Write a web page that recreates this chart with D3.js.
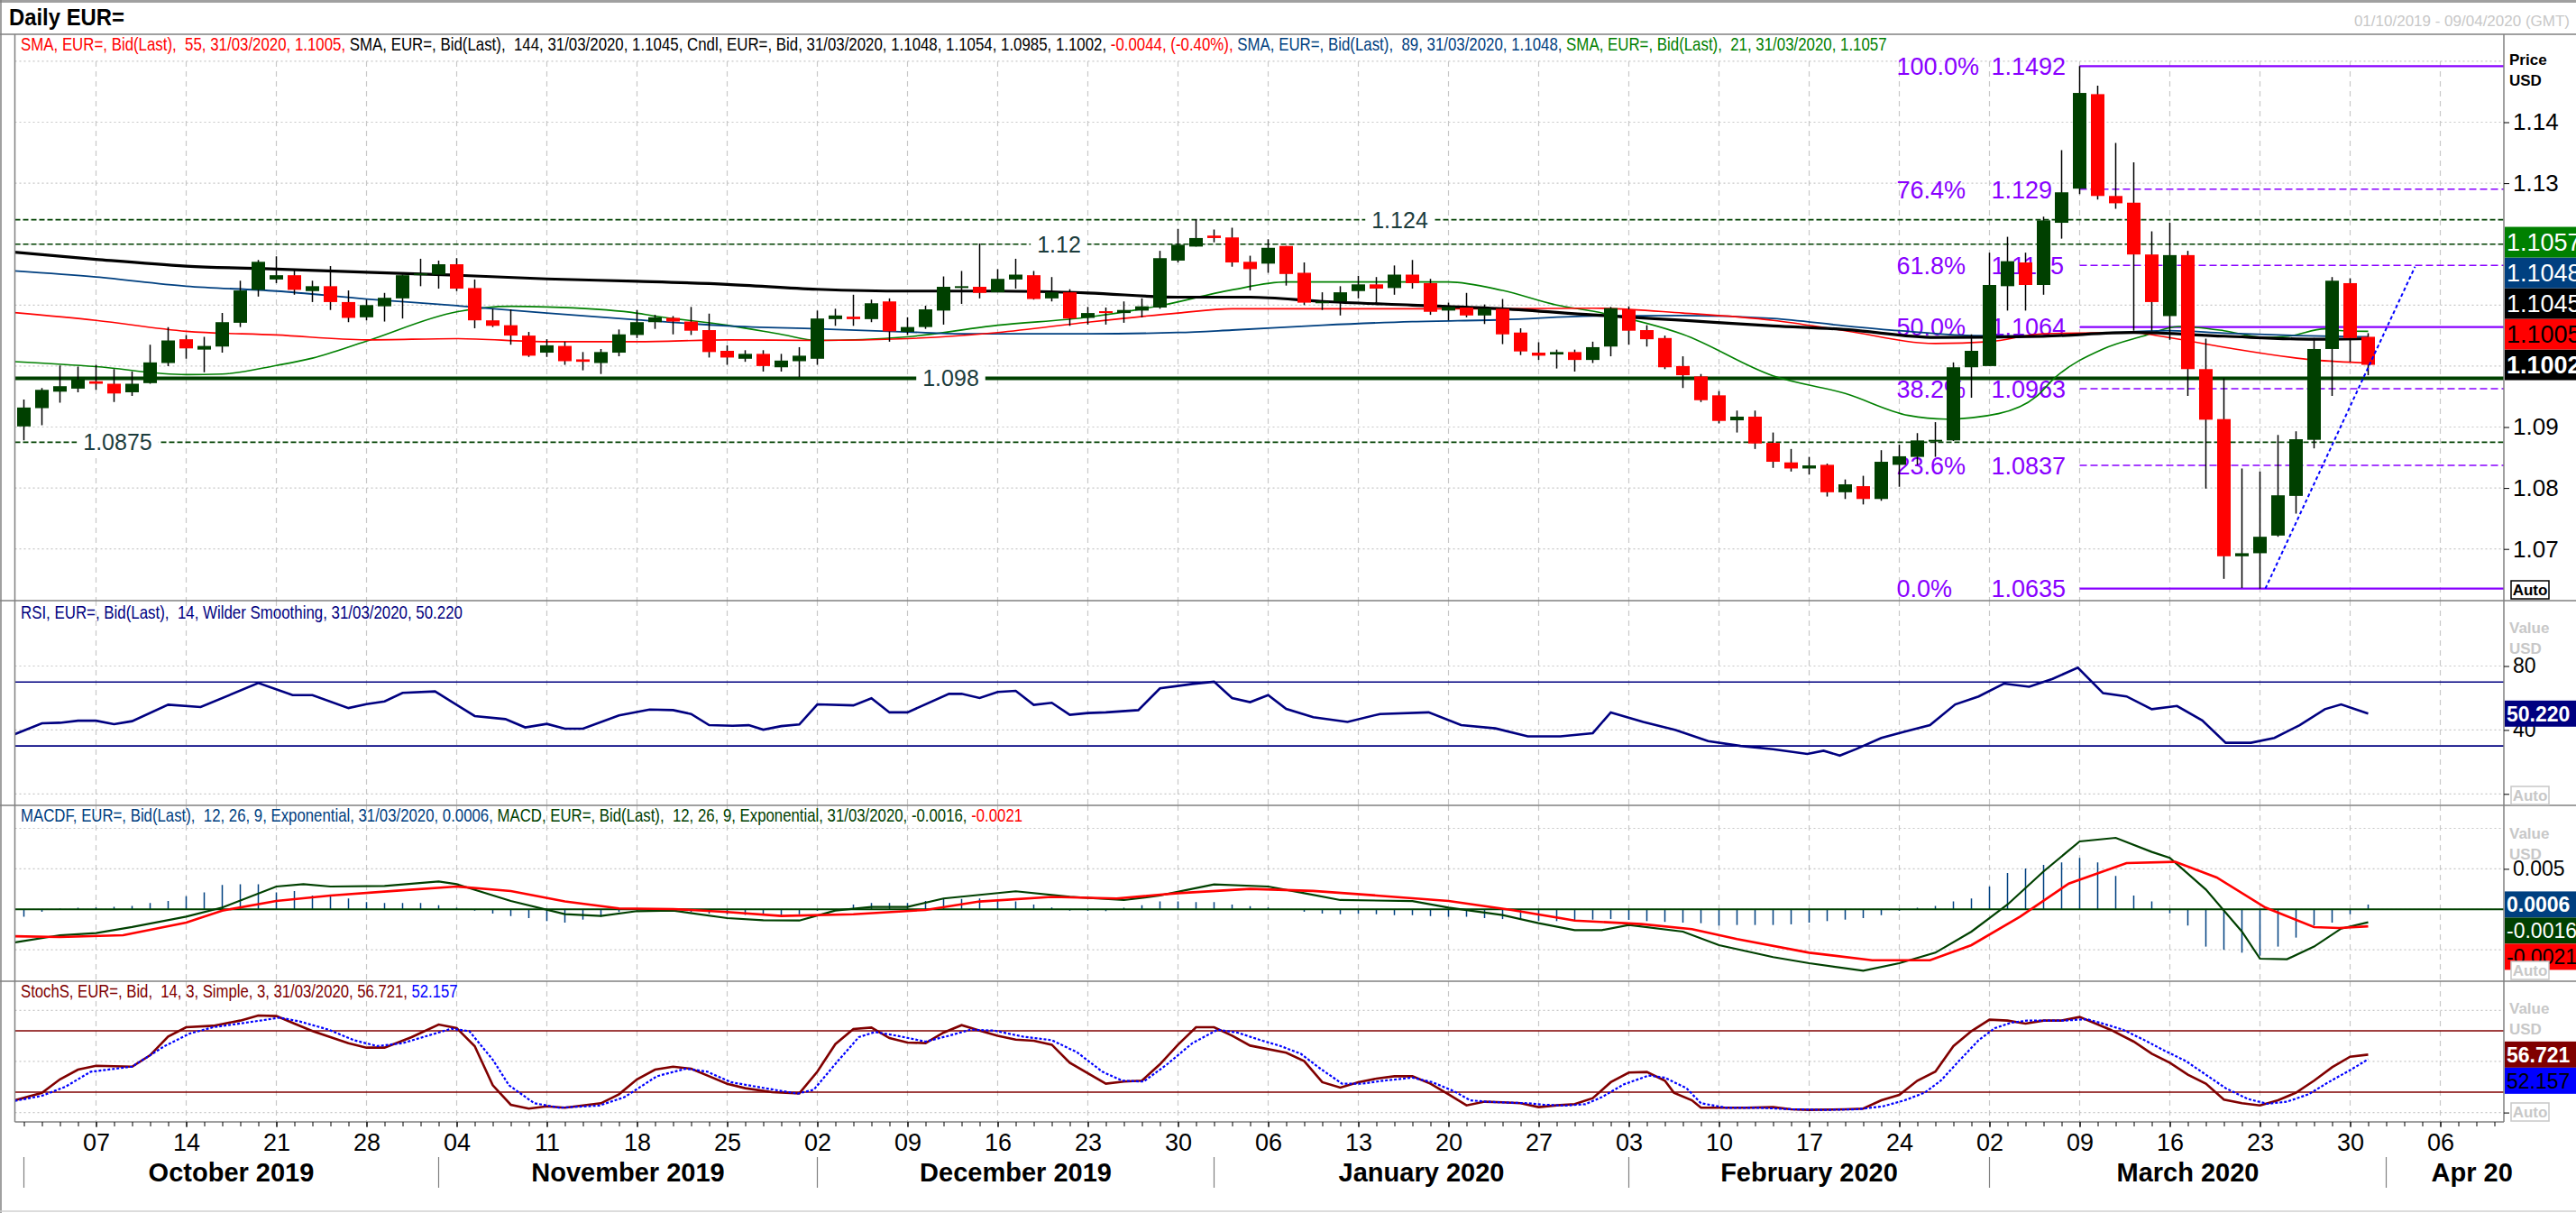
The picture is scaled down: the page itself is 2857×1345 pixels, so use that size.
<!DOCTYPE html>
<html><head><meta charset="utf-8">
<script src="https://cdn.jsdelivr.net/npm/d3@7"></script>
<style>body{margin:0;background:#fff;} svg text{white-space:pre;}</style>
</head><body>
<svg id="c" width="2857" height="1345"></svg>
<script>
// ---------------- DATA ----------------
const firstDay = "2019-10-01", lastDay = "2020-04-09";   // weekday categories
const opens = [1.0901,1.0931,1.0958,1.0963,1.0975,1.0971,1.0957,1.0972,1.1005,1.1044,
1.1027,1.1032,1.1071,1.1125,1.1142,1.1149,1.1123,1.1131,1.1105,1.1080,
1.1098,1.1111,1.1150,1.1150,1.1167,1.1128,1.1075,1.1067,1.1050,1.1022,
1.1033,1.1011,1.1005,1.1022,1.1051,1.1072,1.1079,1.1073,1.1059,1.1025,
1.1012,1.1020,1.0998,1.1008,1.1012,1.1077,1.1081,1.1077,1.1106,1.1056,
1.1064,1.1091,1.1130,1.1130,1.1121,1.1142,1.1149,1.1111,1.1121,1.1079,
1.1090,1.1087,1.1091,1.1096,1.1173,1.1196,1.1214,1.1211,1.1171,1.1168,
1.1197,1.1153,1.1103,1.1106,1.1123,1.1134,1.1128,1.1150,1.1136,1.1091,
1.1096,1.1083,1.1094,1.1055,1.1022,1.1019,1.1023,1.1010,1.1032,1.1093,
1.1059,1.1046,1.1000,1.0983,1.0952,1.0911,1.0917,1.0874,1.0842,1.0832,
1.0838,1.0793,1.0803,1.0782,1.0838,1.0851,1.0878,1.0878,1.0998,1.1000,
1.1131,1.1170,1.1133,1.1235,1.1291,1.1446,1.1279,1.1268,1.1183,1.1082,
1.1182,1.0995,1.0913,1.0688,1.0693,1.0722,1.0787,1.0879,1.1028,1.1136,
1.1048];
const highs = [1.0945,1.0964,1.1001,1.0999,1.1002,1.0995,1.0991,1.1035,1.1064,1.1051,
1.1048,1.1087,1.1140,1.1174,1.1180,1.1159,1.1140,1.1164,1.1124,1.1109,
1.1120,1.1150,1.1176,1.1173,1.1177,1.1142,1.1094,1.1093,1.1056,1.1044,
1.1040,1.1023,1.1028,1.1060,1.1092,1.1084,1.1082,1.1097,1.1086,1.1034,
1.1026,1.1026,1.1020,1.1031,1.1091,1.1094,1.1117,1.1109,1.1111,1.1080,
1.1099,1.1147,1.1156,1.1201,1.1159,1.1176,1.1156,1.1146,1.1126,1.1097,
1.1096,1.1106,1.1111,1.1189,1.1225,1.1241,1.1224,1.1227,1.1181,1.1208,
1.1197,1.1170,1.1121,1.1131,1.1148,1.1146,1.1165,1.1174,1.1143,1.1104,
1.1120,1.1101,1.1110,1.1062,1.1039,1.1027,1.1027,1.1040,1.1097,1.1098,
1.1067,1.1050,1.1016,1.0987,1.0959,1.0927,1.0927,1.0891,1.0864,1.0851,
1.0840,1.0814,1.0820,1.0862,1.0871,1.0890,1.0908,1.1006,1.1052,1.1186,
1.1212,1.1186,1.1245,1.1354,1.1492,1.1460,1.1366,1.1334,1.1221,1.1235,
1.1189,1.1045,1.0980,1.0832,1.0827,1.0887,1.0893,1.1046,1.1146,1.1144,
1.1054];
const lows = [1.0878,1.0903,1.0940,1.0957,1.0961,1.0941,1.0951,1.0971,1.1000,1.1012,
1.0990,1.1022,1.1064,1.1114,1.1136,1.1117,1.1105,1.1092,1.1072,1.1075,
1.1073,1.1078,1.1131,1.1127,1.1123,1.1062,1.1064,1.1035,1.1015,1.1015,
1.1002,1.0993,1.0987,1.1016,1.1046,1.1061,1.1052,1.1051,1.1014,1.1002,
1.1007,1.0991,1.0991,1.0982,1.1002,1.1066,1.1066,1.1072,1.1040,1.1051,
1.1061,1.1068,1.1102,1.1111,1.1121,1.1127,1.1109,1.1106,1.1066,1.1068,
1.1068,1.1071,1.1080,1.1094,1.1170,1.1196,1.1203,1.1163,1.1124,1.1153,
1.1132,1.1100,1.1092,1.1083,1.1111,1.1104,1.1117,1.1127,1.1084,1.1075,
1.1080,1.1069,1.1036,1.1018,1.1010,1.0996,1.0991,1.1005,1.1016,1.1035,
1.1032,1.0995,1.0964,1.0941,1.0906,1.0891,1.0864,1.0833,1.0827,1.0822,
1.0786,1.0782,1.0773,1.0779,1.0802,1.0838,1.0851,1.0877,1.0948,1.1000,
1.1091,1.1091,1.1117,1.1209,1.1282,1.1273,1.1258,1.1058,1.1058,1.1043,
1.0951,1.0799,1.0651,1.0636,1.0635,1.0720,1.0758,1.0865,1.0951,1.1007,
1.0985];
const closes = [1.0932,1.0961,1.0967,1.0978,1.0971,1.0955,1.0971,1.1006,1.1042,1.1029,
1.1033,1.1072,1.1124,1.1171,1.1149,1.1125,1.1131,1.1105,1.1079,1.1100,
1.1112,1.1149,1.1152,1.1167,1.1127,1.1075,1.1066,1.1050,1.1017,1.1034,
1.1008,1.1007,1.1023,1.1052,1.1072,1.1080,1.1073,1.1058,1.1023,1.1014,
1.1020,1.1000,1.1009,1.1017,1.1078,1.1083,1.1077,1.1103,1.1057,1.1064,
1.1093,1.1130,1.1131,1.1120,1.1143,1.1150,1.1110,1.1121,1.1078,1.1087,
1.1087,1.1092,1.1098,1.1177,1.1199,1.1210,1.1210,1.1170,1.1159,1.1194,
1.1151,1.1104,1.1106,1.1121,1.1134,1.1127,1.1150,1.1136,1.1089,1.1097,
1.1083,1.1094,1.1052,1.1024,1.1017,1.1023,1.1010,1.1031,1.1095,1.1058,
1.1044,1.0998,1.0985,1.0944,1.0910,1.0917,1.0873,1.0843,1.0832,1.0837,
1.0793,1.0806,1.0782,1.0843,1.0852,1.0878,1.0879,1.0998,1.1025,1.1133,
1.1172,1.1133,1.1239,1.1285,1.1448,1.1279,1.1267,1.1183,1.1105,1.1182,
1.0995,1.0912,1.0688,1.0693,1.0720,1.0788,1.0880,1.1028,1.1140,1.1046,
1.1002];

// moving averages: [day index, value]
const sma144 = [[-1,1.1188],[4,1.1175],[9,1.1164],[14,1.1159],[19,1.1154],[24,1.1149],[29,1.1143],[34,1.1139],[39,1.1134],[44,1.1126],[49,1.1123],[54,1.1123],[59,1.1120],[64,1.1113],[68,1.1113],[72,1.1106],[77,1.1100],[82,1.1094],[87,1.1084],[92,1.1075],[97,1.1066],[101,1.1060],[106,1.1047],[112,1.1049],[117,1.1055],[122,1.1049],[127,1.1044],[130,1.1045]];
const sma89 = [[-1,1.1157],[4,1.1146],[9,1.1131],[14,1.1123],[19,1.1110],[24,1.1099],[29,1.1087],[34,1.1076],[39,1.1066],[44,1.1061],[49,1.1056],[52,1.1053],[59,1.1053],[64,1.1055],[67,1.1059],[72,1.1067],[77,1.1073],[82,1.1076],[87,1.1082],[92,1.1083],[97,1.1078],[101,1.1066],[104,1.1058],[108,1.1050],[112,1.1049],[116,1.1055],[119,1.1058],[122,1.1054],[126,1.1050],[130,1.1048]];
const sma55 = [[-1,1.1089],[4,1.1075],[9,1.1057],[14,1.1051],[19,1.1043],[24,1.1045],[29,1.1040],[34,1.1040],[39,1.1043],[44,1.1042],[49,1.1045],[54,1.1055],[59,1.1072],[64,1.1087],[67,1.1094],[72,1.1094],[77,1.1094],[82,1.1094],[87,1.1095],[92,1.1087],[97,1.1075],[101,1.1058],[106,1.1037],[109,1.1040],[112,1.1053],[117,1.1055],[118.5,1.1049],[122,1.1031],[127,1.1010],[130,1.1005]];
const sma21 = [[-1,1.1008],[4,1.0999],[9,1.0986],[11,1.0987],[14,1.1001],[16,1.1013],[19,1.1041],[24,1.1089],[27,1.1098],[29,1.1097],[33.7,1.1088],[35,1.1082],[39,1.1067],[42,1.1052],[44,1.1042],[49,1.1048],[54,1.1067],[59,1.1080],[63,1.1099],[67,1.1125],[70,1.1138],[79,1.1138],[82,1.1124],[85,1.1100],[87,1.1090],[92,1.1052],[97,1.0984],[101,1.0955],[104.5,1.0919],[106.6,1.0913],[109.5,1.0922],[111.6,1.0950],[112.6,1.0980],[115.3,1.1028],[117.5,1.1049],[119.5,1.1065],[122,1.1058],[124.2,1.1047],[125.6,1.1049],[127.6,1.1061],[128.6,1.1058],[130,1.1057]];

// drawn studies
const fibStartDay = 114;
const fibPct = ["100.0%","76.4%","61.8%","50.0%","38.2%","23.6%","0.0%"];
const fibVal = [1.1492,1.129,1.1165,1.1064,1.0963,1.0837,1.0635];
const fibSolid = [true,false,false,true,false,false,true];
const hLineVal = [1.124,1.12,1.098,1.0875];
const hLineLabel = ["1.124","1.12","1.098","1.0875"];
const hLineSolid = [false,false,true,false];
const trendLine = [[124.3,1.0635],[132.6,1.1163]];

// last-value tags
const priceTags = [
  {t:"1.1057",v:1.1057,bg:"#008000",fg:"#fff"},
  {t:"1.1048",v:1.1048,bg:"#004080",fg:"#fff"},
  {t:"1.1045",v:1.1045,bg:"#000",fg:"#fff"},
  {t:"1.1005",v:1.1005,bg:"#ff0000",fg:"#000"},
  {t:"1.1002",v:1.1002,bg:"#000",fg:"#fff",b:true}];
const rsiTags = [{t:"50.220",v:50.22,bg:"#000080",fg:"#fff",b:true}];
const macdTags = [{t:"0.0006",v:0.6,bg:"#004080",fg:"#fff",b:true},{t:"-0.0016",v:-1.6,bg:"#004000",fg:"#fff"},{t:"-0.0021",v:-2.1,bg:"#ff0000",fg:"#000"}];
const stochTags = [{t:"56.721",v:56.721,bg:"#800000",fg:"#fff",b:true},{t:"52.157",v:52.157,bg:"#0000ff",fg:"#000"}];

// RSI 14
const rsiPoints = [[-1,35],[-0.4,37.8],[1,44.2],[2,44.5],[3,45.8],[4,45.8],[5,43.6],[6,45.5],[8,55.8],[9.8,54.3],[13,69.4],[14.9,61.8],[16,61.8],[18,53.7],[19,56.2],[20,57.9],[21,63.2],[22.8,64.1],[25,48.7],[26.7,46.8],[27.8,41.6],[29,43.8],[30,40.8],[31,40.8],[33,49.1],[34.7,52.8],[36,52.4],[37,50.0],[38,43.0],[39.3,42.6],[40.2,43.0],[41,40.2],[42,42.4],[43,43.4],[44,56.0],[46,55.4],[47,59.8],[48,51.0],[49,51.0],[51.3,62.6],[52,62.6],[53,60.0],[54,63.8],[55,64.5],[56,55.7],[57,57.0],[58,49.5],[59,50.6],[60,51.0],[61.8,52.4],[63,66.0],[64.8,68.8],[66,70.2],[67,60.0],[68,57.4],[69,61.8],[70,53.2],[71.5,48],[73.4,45],[75.2,50],[77.9,51],[79.7,43],[81.6,41],[83.4,36],[85.2,36],[87,38],[88,51],[89.8,45],[91.6,40],[93.4,33],[95.2,30],[97,28],[98.9,25],[99.8,27],[100.7,24],[101.6,28],[103,35],[104.3,39],[105.7,43],[107.1,56],[108.4,61],[109.8,69],[111.2,67],[112.5,72],[113.9,79],[115.3,63],[116.6,61],[118,53],[119.4,55],[120.8,46],[122.1,32],[123.5,32],[124.8,35],[126.2,43],[127.6,53],[128.5,56],[130,50.22]];
const rsiLevels = [70,30];

// MACD (values in thousandths)
const macdLine = [[-1,-4.3],[-0.4,-4.05],[2,-3.2],[4,-2.93],[6,-2.18],[9,-0.9],[11,0.22],[14,2.82],[15.5,3.11],[17,2.82],[20,2.89],[23,3.45],[24,3.11],[27,1.03],[30,-0.6],[32,-0.82],[34,-0.22],[36,-0.15],[39,-1.08],[41,-1.34],[43,-1.38],[45,-0.15],[47,0.3],[49,0.3],[51,1.34],[55,2.23],[58,1.56],[61,1.15],[63,1.71],[66,3.08],[69,2.82],[71,2.0],[73,1.15],[77,1.03],[79,0.22],[82,-0.71],[84,-1.71],[86,-2.57],[87.5,-2.57],[89,-1.93],[92,-2.75],[94,-4.42],[97,-5.9],[99,-6.65],[102,-7.57],[104,-6.65],[106,-5.35],[108,-2.75],[110,0.59],[112,4.68],[114,8.39],[116,8.83],[118,7.09],[119,6.35],[121,2.45],[123,-2.75],[124,-6.09],[125.5,-6.16],[127,-4.6],[128.5,-2.38],[130,-1.6]];
const signalLine = [[-1,-3.3],[2,-3.42],[5.5,-3.2],[9,-1.64],[11,-0.15],[14,1.03],[17,1.71],[20.5,2.27],[24,2.82],[27,2.27],[30,0.97],[33,0.11],[36,0.04],[39,-0.33],[42,-0.82],[46,-0.6],[50,-0.07],[53,0.97],[57,1.53],[60.6,1.34],[64,2.0],[68,2.52],[71.5,2.27],[75,1.71],[79,1.03],[82.5,-0.07],[86,-1.38],[89.7,-1.82],[92.5,-2.45],[95,-3.68],[99,-5.35],[102.5,-6.28],[105.7,-6.28],[108,-4.42],[110.7,-0.9],[113.4,3.19],[116.6,5.72],[119.3,5.87],[121.6,3.93],[124.3,0.22],[127,-2.19],[128.4,-2.3],[130,-2.1]];
const macdHist = [-0.9,-0.3,0.1,0.2,0.22,0.3,0.41,0.78,1.03,1.63,
2.08,3.0,3.1,3.1,2.08,2.26,1.71,1.71,1.34,0.89,
0.78,0.78,0.78,0.52,0.2,-0.15,-0.52,-0.82,-1.08,-1.45,
-1.64,-1.27,-0.9,-0.34,-0.15,-0.15,-0.15,-0.34,-0.52,-0.6,
-0.7,-0.71,-0.82,-0.6,-0.2,0.04,0.59,0.78,0.78,0.78,
1.03,1.26,1.3,1.34,1.1,0.97,0.59,0.22,-0.15,-0.2,
-0.22,0.2,0.52,0.97,0.97,0.9,0.89,0.59,0.4,0.22,
0.0,-0.3,-0.52,-0.6,-0.55,-0.6,-0.71,-0.71,-0.82,-0.9,
-0.9,-1.08,-1.2,-1.27,-1.45,-1.45,-1.4,-1.27,-1.2,-1.3,
-1.45,-1.55,-1.64,-1.71,-2.0,-1.93,-1.93,-1.93,-1.85,-1.64,
-1.45,-1.27,-1.08,-0.71,-0.2,0.2,0.41,0.97,1.34,2.82,
4.49,5.04,5.5,5.79,6.35,5.79,4.12,1.71,0.97,-0.5,
-2.0,-4.6,-5.0,-5.35,-5.72,-4.6,-3.49,-2.0,-1.64,-0.6,
0.6];

// Stochastic
const stochK = [[-1,9],[-0.5,12.0],[1,19.3],[2,32.5],[3,42.0],[4,45.8],[6,44.9],[7,56.1],[8,74.3],[9,83.5],[10.5,84.9],[12,90.0],[13,95.0],[14,94.4],[15,87.0],[16,79.7],[18,67.9],[19,63.5],[20,63.5],[21.5,73.8],[23,86.1],[24,82.6],[25,65.0],[26,26.7],[27,7.6],[28,3.8],[29,6.1],[30,4.7],[32,9.1],[33,17.9],[34,32.5],[35,42.0],[36,44.9],[37,42.9],[38,35.5],[39,28.2],[40,23.8],[41.5,20.0],[43,18.8],[44,40.0],[45,67.0],[46,81.7],[47,83.2],[48,72.9],[49,68.5],[50,67.9],[51,78.2],[52,85.5],[53,80.2],[54,75.2],[55,71.4],[56,70.2],[57,66.4],[58,48.7],[60,28.2],[61,30.3],[62,31.2],[63,47.3],[64,66.4],[65,83.5],[66,83.5],[67,75.2],[68,65.5],[70,58.5],[71,50.3],[72,29.7],[73,24.4],[74,29.7],[75,33.2],[76,35.5],[77,35.5],[78,28.2],[79,17.9],[80,7.0],[81,10.6],[82,10.0],[83,9.1],[84,5.3],[85,7.0],[86,8.2],[87,14.1],[88,29.7],[89,39.1],[90,39.7],[91,31.2],[91.5,19.4],[92.5,12.0],[93,4.7],[94.5,4.7],[95.5,4.7],[97,5.3],[98,3.2],[99,2.6],[101,3.2],[102,3.8],[103,12.0],[104,17.3],[105,31.2],[106,40.0],[107,65.0],[108,79.7],[109,90.9],[110,90.0],[111,87.0],[112,90.0],[113,90.0],[114,93.5],[115.7,81.1],[117,69.4],[118,57.6],[119,48.7],[120,37.0],[121,28.2],[122,12.6],[123,9.1],[124,7.0],[125,12.0],[126,19.4],[127,31.2],[128,44.3],[129,54.6],[130,56.72]];
const stochD = [[-1,10],[-0.5,11.4],[1,16.4],[2.3,25.2],[3.7,39.9],[6,44.9],[7.8,65.0],[9.2,77.3],[10.5,83.5],[12.3,87.9],[14.2,92.9],[15.3,89.1],[16.9,81.1],[18.3,70.8],[19.6,65.0],[21,67.9],[22.4,75.2],[23.7,82.0],[24.7,79.7],[26,51.7],[26.9,26.7],[28.3,9.1],[29.7,4.7],[31.9,6.8],[33.3,15.0],[35.1,35.5],[36.7,42.9],[37.9,40.0],[39.2,29.7],[41.1,23.8],[42.9,18.5],[43.8,22.3],[45.2,51.7],[46.3,73.8],[47.2,78.8],[48.4,75.2],[50,69.4],[51.3,75.2],[52.5,81.1],[53.8,80.2],[55.4,74.3],[57,70.8],[58.4,59.0],[59.8,40.0],[60.9,31.2],[62.1,30.3],[63.4,47.3],[64.8,67.9],[66.2,81.1],[67.3,78.2],[68.7,70.2],[69.7,65.0],[70.8,57.6],[71.9,42.9],[73.1,28.2],[74.2,28.2],[75.4,31.2],[77,34.1],[78.1,29.7],[79.3,20.9],[80.2,12.0],[81.1,10.6],[82.3,9.7],[83.4,9.1],[84.3,7.6],[85.5,6.8],[86.6,8.2],[87.5,15.0],[88.7,27.4],[90.1,36.2],[91,34.1],[92.2,23.8],[93,9.1],[94.4,4.7],[96.2,4.7],[98,3.2],[99.9,2.6],[101.7,3.2],[103.1,6.1],[104.3,12.0],[105.4,19.4],[106.3,31.2],[107.3,50.3],[108.4,70.8],[109.3,82.6],[110.2,87.9],[111.1,90.0],[112.3,90.0],[113.2,90.0],[114.4,91.4],[115.3,87.0],[116.4,81.1],[117.6,70.8],[118.7,60.6],[119.9,50.3],[121,37.0],[122.1,23.8],[123.3,13.5],[124.4,8.5],[125.5,10.6],[126.7,17.9],[127.8,29.7],[129,41.5],[130,52.16]];
const stochLevels = [80,20];

// axis ticks / labels (ticks hidden under the value tags are not drawn)
const priceTicks = [1.07,1.08,1.09,1.13,1.14];
const priceGrid = [1.07,1.08,1.09,1.10,1.11,1.12,1.13,1.14,1.15];
const rsiTicks = [40,80], rsiGrid = [0,40,80];
const macdTicks = [5], macdGrid = [-5,0,5,10];
const stochGrid = [0,50,100];
const monthLabels = ["October 2019","November 2019","December 2019","January 2020","February 2020","March 2020","Apr 20"];

// legends
const legPrice = [["SMA, EUR=, Bid(Last),  55, 31/03/2020, 1.1005, ","#ff0000"],["SMA, EUR=, Bid(Last),  144, 31/03/2020, 1.1045, ","#000"],["Cndl, EUR=, Bid, 31/03/2020, 1.1048, 1.1054, 1.0985, 1.1002, ","#000"],["-0.0044, (-0.40%), ","#ff0000"],["SMA, EUR=, Bid(Last),  89, 31/03/2020, 1.1048, ","#004080"],["SMA, EUR=, Bid(Last),  21, 31/03/2020, 1.1057","#008000"]];
const legRsi = [["RSI, EUR=, Bid(Last),  14, Wilder Smoothing, 31/03/2020, 50.220","#000080"]];
const legMacd = [["MACDF, EUR=, Bid(Last),  12, 26, 9, Exponential, 31/03/2020, 0.0006, ","#004080"],["MACD, EUR=, Bid(Last),  12, 26, 9, Exponential, 31/03/2020, -0.0016, ","#004000"],["-0.0021","#ff0000"]];
const legStoch = [["StochS, EUR=, Bid,  14, 3, Simple, 3, 31/03/2020, 56.721, ","#800000"],["52.157","#0000ff"]];

// ---------------- RENDER ----------------
const W=2857, H=1345, XL=16.5, XR=2777;
const F="'Liberation Sans', Arial, sans-serif";
const svg=d3.select("#c");
svg.append("rect").attr("width",W).attr("height",H).attr("fill","#fff");

const dates=[];
for(let t=Date.parse(firstDay); t<=Date.parse(lastDay); t+=86400000){const d=new Date(t); const w=d.getUTCDay(); if(w>0&&w<6) dates.push(d);}
const x=d3.scaleLinear().domain([-0.5,dates.length-0.5]).range([XL,XR-0.5]);
const mondays=d3.range(dates.length).filter(i=>dates[i].getUTCDay()===1);

const panels={price:[38,666],rsi:[666,893],macd:[893,1088],stoch:[1088,1244]};
const yP=d3.scaleLinear().domain([1.07,1.14]).range([608.7,135.5]);
const yR=d3.scaleLinear().domain([0,80]).range([880.3,738.5]);
const yM=d3.scaleLinear().domain([-5,5]).range([1053.2,963.4]);
const yS=d3.scaleLinear().domain([0,100]).range([1233.6,1120.3]);

const defs=svg.append("defs");
for(const k in panels){const p=panels[k];
  defs.append("clipPath").attr("id","cl-"+k).append("rect").attr("x",XL).attr("y",p[0]).attr("width",XR-XL).attr("height",p[1]-p[0]);}

function grid(k,ys,vals,vtop){
  const p=panels[k], g=svg.append("g");
  g.selectAll("line.gh").data(vals).join("line").attr("class","gh").attr("x1",XL).attr("x2",XR).attr("y1",d=>ys(d)).attr("y2",d=>ys(d)).attr("stroke","#c8c8c8").attr("stroke-width",1.2).attr("stroke-dasharray","2,3");
  g.selectAll("line.gv").data(mondays).join("line").attr("class","gv").attr("x1",d=>x(d)).attr("x2",d=>x(d)).attr("y1",vtop!=null?vtop:p[0]).attr("y2",p[1]).attr("stroke","#c8c8c8").attr("stroke-width",1.2).attr("stroke-dasharray","6,5");
}
grid("price",yP,priceGrid,yP(1.15));
grid("rsi",yR,rsiGrid);
grid("macd",yM,macdGrid);
grid("stoch",yS,stochGrid);

// ---- price panel ----
const gp=svg.append("g").attr("clip-path","url(#cl-price)");
const fx0=x(fibStartDay);
fibVal.forEach((v,i)=>{
  gp.append("line").attr("x1",fx0).attr("x2",XR).attr("y1",yP(v)).attr("y2",yP(v)).attr("stroke","#8800ff").attr("stroke-width",fibSolid[i]?2.2:1.5).attr("stroke-dasharray",fibSolid[i]?null:"8,4");
  gp.append("text").attr("x",fx0-203).attr("y",yP(v)).attr("dy","0.36em").attr("font-family",F).attr("font-size",27).attr("fill","#8800ff").text(fibPct[i]);
  gp.append("text").attr("x",fx0-98).attr("y",yP(v)).attr("dy","0.36em").attr("font-family",F).attr("font-size",27).attr("fill","#8800ff").text(fibVal[i].toString());
});
gp.append("line").attr("x1",fx0).attr("x2",fx0).attr("y1",yP(fibVal[0])).attr("y2",yP(highs[fibStartDay])).attr("stroke","#000");
const hLabelAt=[76.3,57.4,51.4,5.2];
hLineVal.forEach((v,i)=>{
  gp.append("line").attr("x1",XL).attr("x2",XR).attr("y1",yP(v)).attr("y2",yP(v)).attr("stroke","#004000").attr("stroke-width",hLineSolid[i]?4:1.6).attr("stroke-dasharray",hLineSolid[i]?null:"6,3");
  const t=gp.append("text").attr("x",x(hLabelAt[i])).attr("y",yP(v)).attr("dy","0.36em").attr("text-anchor","middle").attr("font-family",F).attr("font-size",25).attr("fill","#1c3c3c").text(hLineLabel[i]);
  const bb=t.node().getBBox();
  gp.insert("rect",()=>t.node()).attr("x",bb.x-7).attr("y",bb.y).attr("width",bb.width+14).attr("height",bb.height).attr("fill","#fff");
});
const sl=d3.line().x(d=>x(d[0])).y(d=>yP(d[1])).curve(d3.curveMonotoneX);
[[sma21,"#008000",1.6],[sma89,"#004080",1.8],[sma55,"#ff0000",1.6],[sma144,"#000",3.2]].forEach(s=>{
  gp.append("path").attr("d",sl(s[0])).attr("fill","none").attr("stroke",s[1]).attr("stroke-width",s[2]);
});
const bw=15;
const cg=gp.append("g");
cg.selectAll("line.w").data(closes).join("line").attr("class","w").attr("x1",(d,i)=>x(i)).attr("x2",(d,i)=>x(i)).attr("y1",(d,i)=>yP(highs[i])).attr("y2",(d,i)=>yP(lows[i])).attr("stroke","#000").attr("stroke-width",1.5);
cg.selectAll("rect.b").data(closes).join("rect").attr("class","b").attr("x",(d,i)=>x(i)-bw/2).attr("width",bw)
  .attr("y",(d,i)=>Math.min(yP(opens[i]),yP(d)))
  .attr("height",(d,i)=>Math.max(2,Math.abs(yP(opens[i])-yP(d))))
  .attr("fill",(d,i)=>d>=opens[i]?"#004000":"#ff0000");
gp.append("path").attr("d",d3.line().x(d=>x(d[0])).y(d=>yP(d[1]))(trendLine)).attr("stroke","#0000ff").attr("stroke-width",2).attr("stroke-dasharray","4,3").attr("fill","none");

// ---- RSI ----
const gr=svg.append("g").attr("clip-path","url(#cl-rsi)");
rsiLevels.forEach(v=>gr.append("line").attr("x1",XL).attr("x2",XR).attr("y1",yR(v)).attr("y2",yR(v)).attr("stroke","#000080").attr("stroke-width",1.6));
gr.append("path").attr("d",d3.line().x(d=>x(d[0])).y(d=>yR(d[1]))(rsiPoints)).attr("fill","none").attr("stroke","#000080").attr("stroke-width",2.6);

// ---- MACD ----
const gm=svg.append("g").attr("clip-path","url(#cl-macd)");
gm.selectAll("line.h").data(macdHist).join("line").attr("class","h").attr("x1",(d,i)=>x(i)).attr("x2",(d,i)=>x(i)).attr("y1",yM(0)).attr("y2",d=>yM(d)).attr("stroke","#004080").attr("stroke-width",1.5);
gm.append("line").attr("x1",XL).attr("x2",XR).attr("y1",yM(0)).attr("y2",yM(0)).attr("stroke","#004000").attr("stroke-width",2);
const ml=d3.line().x(d=>x(d[0])).y(d=>yM(d[1]));
gm.append("path").attr("d",ml(macdLine)).attr("fill","none").attr("stroke","#004000").attr("stroke-width",2.2);
gm.append("path").attr("d",ml(signalLine)).attr("fill","none").attr("stroke","#ff0000").attr("stroke-width",2.6);

// ---- Stoch ----
const gs=svg.append("g").attr("clip-path","url(#cl-stoch)");
stochLevels.forEach(v=>gs.append("line").attr("x1",XL).attr("x2",XR).attr("y1",yS(v)).attr("y2",yS(v)).attr("stroke","#800000").attr("stroke-width",1.6));
const stl=d3.line().x(d=>x(d[0])).y(d=>yS(d[1]));
gs.append("path").attr("d",stl(stochK)).attr("fill","none").attr("stroke","#800000").attr("stroke-width",2.6);
gs.append("path").attr("d",stl(stochD)).attr("fill","none").attr("stroke","#0000ff").attr("stroke-width",2.2).attr("stroke-dasharray","3,2");

// ---- frame ----
const fr=svg.append("g").attr("stroke","#808080").attr("stroke-width",1.5);
fr.append("line").attr("x1",0).attr("x2",W).attr("y1",1.5).attr("y2",1.5).attr("stroke-width",3).attr("stroke","#a0a0a0");
fr.append("line").attr("x1",1).attr("x2",1).attr("y1",0).attr("y2",H);
[38,666,893,1088].forEach(y=>fr.append("line").attr("x1",0).attr("x2",W).attr("y1",y).attr("y2",y));
fr.append("line").attr("x1",XL).attr("x2",XR).attr("y1",1244).attr("y2",1244);
fr.append("line").attr("x1",XL).attr("x2",XL).attr("y1",38).attr("y2",1244);
fr.append("line").attr("x1",XR).attr("x2",XR).attr("y1",38).attr("y2",1244);
fr.append("line").attr("x1",0).attr("x2",W).attr("y1",1343).attr("y2",1343).attr("stroke","#d0d0d0");

// ---- right axes ----
function rightAxis(ys,ticks,fmt,size){
  const g=svg.append("g").attr("transform",`translate(${XR},0)`).call(d3.axisRight(ys).tickValues(ticks).tickSize(6).tickPadding(4).tickFormat(fmt));
  g.select(".domain").remove();
  g.selectAll("line").attr("stroke","#000");
  g.selectAll("text").attr("font-family",F).attr("font-size",size).attr("fill","#000");
}
rightAxis(yP,priceTicks,d3.format(".2f"),26);
rightAxis(yR,rsiTicks,d3.format("d"),23); rightAxis(yR,[0],()=>"",23);
rightAxis(yM,macdTicks,d=>(d/1000).toFixed(3),23);
rightAxis(yS,[0],()=>"",23);

function tags(items,ys,dir,h,size){
  const s=items.slice().sort((a,b)=>dir==="up"?a.v-b.v:b.v-a.v);
  let prev=null;
  s.forEach(d=>{
    let cy=ys(d.v);
    if(prev!==null) cy = dir==="up"?Math.min(cy,prev-h):Math.max(cy,prev+h);
    prev=cy;
    svg.append("rect").attr("x",XR+1).attr("y",cy-h/2).attr("width",W-XR).attr("height",h).attr("fill",d.bg);
    svg.append("text").attr("x",XR+3).attr("y",cy).attr("dy","0.36em").attr("font-family",F).attr("font-size",size).attr("font-weight",d.b?"bold":"normal").attr("fill",d.fg).text(d.t);
  });
}
tags(priceTags,yP,"up",34,27);
tags(rsiTags,yR,"down",29,23);
tags(macdTags,yM,"down",29,23);
tags(stochTags,yS,"down",29,23);

function axisTitle(y,a,b,col){
  [a,b].forEach((t,i)=>svg.append("text").attr("x",2783).attr("y",y+i*23).attr("font-family",F).attr("font-weight","bold").attr("font-size",17).attr("fill",col).text(t));
}
axisTitle(72,"Price","USD","#000");
axisTitle(702,"Value","USD","#c8c8c8");
axisTitle(930,"Value","USD","#c8c8c8");
axisTitle(1124,"Value","USD","#c8c8c8");
function auto(bottom,col){
  svg.append("rect").attr("x",2785).attr("y",bottom-21).attr("width",42).attr("height",20).attr("fill","#fff").attr("stroke",col).attr("stroke-width",1.5);
  svg.append("text").attr("x",2806).attr("y",bottom-5).attr("text-anchor","middle").attr("font-family",F).attr("font-weight","bold").attr("font-size",17).attr("fill",col).text("Auto");
}
auto(665,"#000"); auto(893,"#c8c8c8"); auto(1087,"#c8c8c8"); auto(1244,"#c8c8c8");

// ---- bottom axis ----
const gx=svg.append("g").attr("transform","translate(0,1244)").call(d3.axisBottom(x).tickValues(mondays).tickSize(6).tickPadding(7).tickFormat(i=>d3.utcFormat("%d")(dates[i])));
gx.select(".domain").remove();
gx.selectAll("line").attr("stroke","#000");
gx.selectAll("text").attr("font-family",F).attr("font-size",27).attr("fill","#000");
const gx2=svg.append("g").attr("transform","translate(0,1244)").call(d3.axisBottom(x).tickValues(d3.range(dates.length)).tickSize(5).tickFormat(""));
gx2.select(".domain").remove(); gx2.selectAll("line").attr("stroke","#000");
const mStarts=d3.range(dates.length).filter(i=>i===0||dates[i].getUTCMonth()!==dates[i-1].getUTCMonth());
mStarts.forEach((s,k)=>{
  const xa=x(s), last=k+1>=mStarts.length;
  const cx= last ? (xa+W)/2-10 : (xa+x(mStarts[k+1]))/2;
  svg.append("line").attr("x1",xa).attr("x2",xa).attr("y1",1283).attr("y2",1317).attr("stroke","#808080").attr("stroke-width",1.2);
  svg.append("text").attr("x",cx).attr("y",1310).attr("text-anchor","middle").attr("font-family",F).attr("font-weight","bold").attr("font-size",29).attr("fill","#000").text(monthLabels[k]);
});

// ---- titles & legends (horizontally condensed with a scale transform) ----
function condensed(xp,y,parts,len,size,bold){
  const t=svg.append("text").attr("x",0).attr("y",0).attr("font-family",F).attr("font-size",size).attr("font-weight",bold?"bold":"normal");
  parts.forEach(p=>t.append("tspan").attr("fill",p[1]).text(p[0]));
  const nat=t.node().getComputedTextLength();
  t.attr("transform",`translate(${xp},${y}) scale(${len/nat},1)`);
}
condensed(10,28,[["Daily EUR=","#000"]],128,26,true);
svg.append("text").attr("x",2850).attr("y",29).attr("text-anchor","end").attr("font-family",F).attr("font-size",17).attr("fill","#c8c8c8").text("01/10/2019 - 09/04/2020 (GMT)");
condensed(23,56,legPrice,2071,20);
condensed(23,686,legRsi,490,20);
condensed(23,911,legMacd,1112,20);
condensed(23,1106,legStoch,485,20);
</script></body></html>
